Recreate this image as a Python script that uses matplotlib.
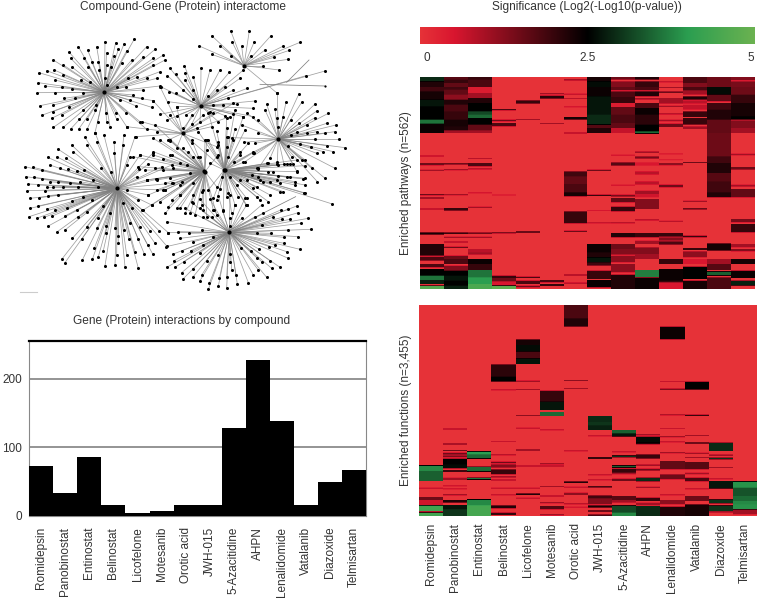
import numpy as np
import matplotlib
matplotlib.use("Agg")
from matplotlib import pyplot as plt
from matplotlib.colors import LinearSegmentedColormap

plt.rcParams['font.family'] = ['Liberation Sans', 'DejaVu Sans']
TEXT = '#333333'
W, H = 760, 599

compounds = ['Romidepsin', 'Panobinostat', 'Entinostat', 'Belinostat', 'Licofelone', 'Motesanib',
             'Orotic acid', 'JWH-015', '5-Azacitidine', 'AHPN', 'Lenalidomide', 'Vatalanib',
             'Diazoxide', 'Telmisartan']
interactions = [73, 33, 85, 15, 4.5, 7, 15, 15, 128, 227, 138, 15, 49, 67]

star_a_origin = (25, 30)
star_a_hub = (238, 187)
star_a = [(328,27),(272,38),(240,35),(215,50),(160,50),(132,66),(188,60),(85,90),(42,128),(65,122),(40,158),(37,188),
          (45,227),(50,256),(85,292),(115,292),(137,297),(162,296),(187,296),(210,308),(255,290),(305,290),(345,275),
          (365,298),(405,125),(420,90),(415,75),(390,58),(365,50),(297,42),(305,62),(280,58),(245,68),(385,105),
          (385,85),(355,82),(395,145),(405,168),(380,232),(385,212),(355,180),(333,228),(325,195),(303,170),(275,268),
          (245,275),(218,275),(163,268),(187,266),(110,255),(83,245),(80,265),(85,225),(132,232),(175,240),(210,240),
          (243,250),(272,248),(302,248),(115,135),(115,105),(137,85),(142,112),(167,150),(195,155),(88,120),(90,150),
          (112,170),(140,178),(60,168),(90,188),(118,205),(150,205),(175,190),(222,120),(240,143),(190,110),(177,85),
          (200,95),(220,95),(245,105),(258,110),(268,78),(290,100),(320,90),(335,142),(367,145),(275,170),(310,145),
          (352,205),(315,210),(285,210),(245,165),(213,225)]

star_b_origin = (15, 130)
star_b_hub = (307, 175)
star_b = [(210,22),(240,8),(267,15),(297,35),(327,15),(360,20),(245,35),(215,45),(170,45),(130,58),(98,82),(125,80),
          (152,85),(175,65),(105,105),(30,110),(55,112),(80,120),(135,115),(160,118),(185,122),(208,120),(258,115),
          (288,125),(335,105),(372,118),(400,102),(32,140),(58,142),(82,148),(105,155),(130,155),(165,160),(195,155),
          (235,150),(40,162),(68,165),(95,172),(115,170),(145,170),(37,182),(90,183),(190,172),(250,172),(45,205),
          (72,203),(100,197),(130,195),(172,212),(205,202),(232,210),(45,235),(70,228),(95,237),(120,240),(155,235),
          (185,240),(215,245),(265,228),(42,260),(65,265),(88,262),(112,258),(150,258),(190,262),(250,263),(100,288),
          (127,305),(150,300),(172,325),(200,328),(215,290),(245,295),(272,287),(300,295),(328,300),(272,308),(140,388),
          (150,398),(202,390),(232,388),(265,362),(238,355),(250,380),(270,407),(300,405),(330,410),(370,415),(305,375),
          (310,338),(335,375),(360,365),(388,372),(413,372),(342,328),(370,328),(398,345),(420,340),(310,318),(345,280),
          (375,290),(405,302),(432,302),(460,308),(455,348),(285,250),(325,218),(352,233),(382,240),(410,225),(368,210),
          (400,195),(445,180),(425,148),(470,160),(395,150),(365,140),(335,180),(470,105),(440,110),(415,68),(375,75),
          (345,80),(325,45),(298,70)]

star_c_origin = (160, 190)
star_c_hub = (208, 127)
star_c = [(452,118),(420,178),(415,140),(385,120),(372,142),(445,85),(422,100),(390,88),(365,88),(415,68),(410,48),
          (385,57),(362,60),(338,82),(310,70),(305,105),(290,128),(332,130),(372,160),(380,185),(345,165),(328,170),
          (298,178),(272,182),(385,205),(360,232),(335,235),(330,212),(305,215),(292,205),(320,262),(295,240),(280,255),
          (265,278),(242,175),(232,282),(228,255),(215,240),(210,215),(210,192),(200,295),(200,262),(178,265),(175,288),
          (148,280),(125,255),(120,272),(145,298),(98,262),(70,266),(65,248),(98,238),(140,212),(175,195),(120,188),
          (92,182),(72,215),(42,212),(20,232),(45,232),(66,182),(40,192),(18,170),(60,145),(25,128),(88,130),(125,120),
          (160,140),(130,165),(100,155),(155,82),(128,82),(188,62),(162,60),(120,55),(98,40),(75,55),(55,125),(20,95),
          (210,108),(210,85),(225,45),(260,45),(245,85),(285,80),(305,45),(255,25),(175,18),(210,15),(150,28),(120,28)]

crop_origin = (160, 25)
star_e_hub = (252, 122)
star_e = [(212,17),(268,17),(155,32),(217,52),(283,50),(332,33),(118,63),(180,62),(245,63),(272,92),(155,88),(212,93),
          (342,97),(385,103),(310,122),(358,135),(370,63),(388,76),(420,52),(315,75),(352,205)]
star_d_hub = (122, 243)
star_d = [(30,130),(73,122),(100,155),(123,130),(150,135),(180,135),(208,142),(47,148),(75,145),(22,152),(75,165),
          (100,195),(170,195),(195,185),(2,185),(28,200),(48,205),(25,230),(70,195),(98,222),(203,220),(145,212),
          (220,195),(240,160),(250,135),(0,268),(22,285),(50,245),(78,270),(50,272),(160,240),(190,240),(232,238),
          (262,190),(285,228),(280,250),(150,262),(195,272),(218,268),(250,275),(280,275),(120,290),(175,290),(70,310),
          (95,298),(495,138),(438,152)]
star_f_hub = (355, 342)
star_f = [(416,208),(425,232),(465,237),(505,265),(470,258),(465,278),(440,300),(418,295),(392,285),(370,275),(378,232),
          (352,205),(345,252),(352,280),(355,305),(320,238),(315,255),(295,285),(262,265),(295,325),(245,300),(285,355),
          (252,352),(215,338),(528,300),(500,295),(470,320),(440,325),(525,320),(495,325),(410,322),(538,342),(500,362),
          (465,342),(555,368),(520,380),(452,365),(420,358),(385,362),(490,380),(470,385),(525,430),(495,460),(472,470),
          (435,405),(455,430),(425,405),(395,395),(400,418),(410,438),(372,418),(352,410),(330,400),(295,430),(282,385),
          (255,410),(222,412),(392,330)]

full_origin = (0, 0)
star_h_hub = (675, 510)
star_h = [(890,515),(915,535),(912,578),(885,545),(862,492),(830,492),(800,490),(775,507),(760,458),(745,430),(720,465),
          (685,410),(680,440),(685,470),(735,390),(790,545),(805,605),(780,600),(738,615),(695,640),(760,565),(740,540),
          (712,555),(680,590),(650,600),(830,540),(860,530),(840,575),(775,530),(655,425),(625,420),(820,515),(997,612)]
star_g_hub = (615, 515)
star_g = [(530,625),(495,570),(490,510),(515,465),(510,420),(550,445),(580,470),(620,420),(650,470),(600,470),(560,495),
          (510,535),(465,505),(470,540),(440,540),(415,500),(400,470),(540,555),(575,605),(605,615),(620,650),(650,645),
          (585,645),(555,640),(515,600),(470,570),(610,570),(650,560),(580,550),(540,585)]
star_i_hub = (548, 400)
star_i = [(380,380),(408,410),(425,365),(460,303),(480,260),(510,345),(530,320),(575,345),(610,345),(640,340),(470,395),
          (505,420),(530,445),(575,430),(590,385),(635,380),(650,440),(690,350),(700,310),(615,515),(675,510)]

centre_origin = (140, 100)
centre_g_hub = (193, 213)
centre_g = [(20,240),(48,237),(75,250),(100,250),(125,245),(150,220),(35,315),(60,305),(85,320),(120,325),(75,270),
            (25,285),(160,285),(185,275),(190,330),(220,330),(150,340),(120,285),(100,205),(70,178),(40,165),(15,210),
            (40,155),(90,165),(120,190),(155,120),(145,155),(60,120),(40,115),(90,122),(175,170),(195,120),(200,150),
            (0,165),(10,330),(75,340),(45,75)]
centre_h_hub = (253, 210)
centre_h = [(450,192),(415,195),(385,190),(350,205),(385,215),(415,228),(450,232),(490,237),(495,255),(465,255),(420,250),
            (390,245),(360,240),(335,225),(300,240),(270,230),(245,232),(240,268),(205,270),(265,280),(295,290),(320,295),
            (350,290),(285,315),(320,315),(250,330),(220,295),(340,155),(310,187),(300,155),(280,120),(262,112),(235,135),
            (285,88),(262,85),(230,92),(200,120),(470,180),(495,197),(352,262),(390,285),(430,275),(495,280),(210,190),
            (235,165),(205,38),(175,95),(285,30),(310,50),(260,55)]

cross_x = [887, 690]  # link between lower star and right side
cross_y = [590, 690]
long_line_x = [780, 975]
long_line_y = [253, 258]
side_line_x = [860, 927]
side_line_y = [247, 180]

stars = [(star_a_origin, star_a_hub, star_a), (star_b_origin, star_b_hub, star_b), (star_c_origin, star_c_hub, star_c),
         (crop_origin, star_e_hub, star_e), (crop_origin, star_d_hub, star_d), (crop_origin, star_f_hub, star_f),
         (full_origin, star_h_hub, star_h), (full_origin, star_g_hub, star_g), (full_origin, star_i_hub, star_i),
         (centre_origin, centre_g_hub, centre_g), (centre_origin, centre_h_hub, centre_h)]

# heatmaps: per compound, (first row, last row, value); unlisted rows are 0
pathway_top = 232
pathway_bottom = 867
pathways = [
    [(232,245,2.9),(245,262,2.2),(262,275,1.9),(275,300,2.3),(300,320,2.7),(320,360,2.5),(360,372,3.6),(372,400,2.4),(468,470,1.8),(490,497,1.5),(510,514,1),(580,584,1.5),(590,594,1.5),(623,627,1),(695,702,2.3),(730,765,2.2),(768,780,1.8),(790,800,1.8),(805,825,2.5),(825,838,3.6),(838,850,2.8),(855,867,4.6)],
    [(232,240,1.7),(240,250,2),(250,262,1.6),(262,270,1.9),(270,285,1.6),(285,300,1.2),(300,315,2.2),(315,335,1.8),(335,360,2),(360,380,2.3),(380,392,2.2),(392,400,1),(490,495,1.5),(508,512,1),(580,584,1),(622,630,2),(695,700,2),(708,712,1),(722,726,1),(738,742,1.5),(765,775,1.5),(775,790,1.8),(795,810,1.3),(810,825,2.5),(825,840,2.7),(840,855,2.5),(855,867,2.8)],
    [(232,240,2),(240,262,1.8),(262,280,.4),(280,295,1),(295,310,2.2),(310,335,2.5),(335,345,3.2),(345,355,3.5),(355,375,2.5),(375,392,1.6),(392,400,1),(475,478,.8),(490,500,1.8),(505,510,.8),(575,578,.8),(618,622,1),(695,700,1.5),(708,712,1),(745,755,.8),(755,762,1),(775,790,2.4),(790,808,2),(808,830,3.6),(830,850,4),(850,867,4.5)],
    [(328,332,1.8),(360,365,1.5),(370,380,1.8),(582,584,1),(695,698,2),(825,832,2),(832,842,1.5),(842,855,.5),(855,867,4.8)],
    [(302,312,2),(358,361,1),(692,696,2.3),(828,832,1.8),(840,850,1.8),(855,860,1.5)],
    [(280,284,1),(288,297,2.1),(370,373,1),(838,845,1.8),(850,856,2)],
    [(238,243,1),(282,285,1),(295,298,.8),(320,323,.8),(352,360,2.3),(398,402,1),(515,530,1.9),(530,550,1.6),(550,575,1.8),(575,587,2.3),(632,668,2),(690,694,1.5),(820,826,.8),(845,850,.8)],
    [(232,245,2.3),(245,262,2.6),(262,290,2.4),(290,345,2.7),(345,375,2.9),(375,385,1.7),(385,400,2.2),(510,514,1.5),(582,586,2),(628,630,.8),(665,668,1),(730,755,2.4),(755,770,2.2),(770,785,2.7),(785,795,1.9),(810,835,2),(838,860,2.4)],
    [(232,240,1.5),(245,262,1.3),(262,272,1.6),(275,292,1.8),(292,310,2),(310,322,.4),(322,345,1.6),(345,370,1.8),(370,385,1.6),(385,400,.7),(465,468,.8),(488,498,1.7),(552,555,.8),(582,588,1.4),(592,605,1.6),(618,632,2),(665,668,1.2),(697,710,2.2),(730,745,1.5),(745,762,1.3),(765,785,1.2),(790,815,1.2),(822,865,2.2)],
    [(232,240,2.2),(245,262,2),(262,272,1.8),(275,290,2.2),(295,300,1),(310,325,1.8),(325,345,2.4),(345,375,2.1),(375,395,2.5),(395,402,3.5),(455,460,1),(470,477,1.4),(488,498,.5),(515,525,.8),(545,552,.8),(570,580,1),(580,590,.6),(595,625,1.3),(655,660,.8),(697,710,2),(720,730,1),(740,760,1.3),(760,775,1),(808,830,3.7),(832,865,2.4)],
    [(245,248,1),(262,265,1),(275,280,1.5),(295,312,1),(318,322,1),(340,345,.8),(360,365,1),(372,382,1.5),(460,465,.4),(478,482,.4),(490,497,1.2),(552,560,1.5),(660,664,.8),(697,708,2),(710,720,1.3),(722,732,1.8),(775,790,2),(805,840,2.4),(840,845,2),(845,867,.5)],
    [(232,250,1.8),(250,262,1.3),(262,272,1.8),(272,285,1),(290,300,2.2),(302,312,.8),(315,330,.7),(335,352,2),(355,375,2),(380,388,1),(487,490,1.5),(600,604,1),(622,627,1.5),(705,710,2),(742,748,2),(752,770,1.2),(775,790,.5),(798,835,2.5),(840,867,2.3)],
    [(232,262,1.5),(262,285,2.6),(285,305,1.6),(310,330,1.9),(330,360,2.2),(360,400,1.6),(400,470,1.5),(470,490,1.9),(490,520,2.2),(520,545,1.7),(545,575,1.9),(575,590,2.2),(728,750,2.3),(775,790,1),(790,808,1.7),(812,825,3.4),(830,867,1.8)],
    [(232,242,1.3),(245,262,1.4),(262,285,1.5),(285,310,2),(310,350,2.3),(350,360,2.5),(362,385,1.3),(385,400,1),(462,467,1),(502,510,1.5),(552,558,1),(565,590,1.6),(655,665,1.4),(670,695,2),(730,740,1),(745,752,1.3),(775,790,2.3),(810,832,2.4),(840,855,2.8)],
]
function_top = 30
function_bottom = 662
functions = [
    [(508,525,3.8),(525,555,3.4),(575,578,1),(603,612,1.5),(612,627,.6),(628,645,4.3),(645,650,.8),(650,662,4.3)],
    [(397,401,1),(442,446,1.4),(462,465,1.5),(470,476,1.5),(478,484,1.4),(488,505,2.5),(505,517,2.6),(522,528,1.9),(545,552,1),(568,571,.9),(577,580,.9),(595,598,1.5),(612,620,2.2),(627,640,2.7),(640,662,3)],
    [(466,475,4),(475,488,3.5),(512,527,3.5),(545,551,3.6),(610,628,3.8),(628,662,4.4)],
    [(208,245,2.1),(245,260,2.5),(283,286,1),(436,438,1),(475,478,1.2),(497,502,1.5),(505,515,1.3),(520,535,2),(540,545,1),(550,554,1),(575,578,1),(595,598,1),(628,637,2.2),(650,657,2)],
    [(133,150,2.3),(150,170,2.6),(170,190,1.8),(190,207,2.7),(257,260,1.5),(282,285,1),(357,360,1.2),(395,398,1),(460,464,1.5),(508,512,1),(575,578,1),(592,597,2.2),(605,608,1)],
    [(287,320,2),(320,345,2.7),(348,360,3.5),(400,403,1),(502,505,1.5),(508,512,1),(570,573,1),(598,602,1),(618,622,1),(630,640,1.7),(655,658,1.5)],
    [(30,70,1.8),(70,95,2.2),(255,258,1.2),(279,282,1),(463,466,1),(556,561,2.2),(572,575,1),(590,597,1.2),(622,625,1.2),(632,635,.8)],
    [(360,378,2.9),(378,388,3),(388,402,2.8),(418,421,1),(484,488,3),(535,538,1),(550,553,1),(570,575,1.8),(598,607,1.9),(607,625,1.3),(628,635,2.3),(642,648,1.5),(655,660,1.8)],
    [(402,412,3.4),(412,422,2.7),(466,469,1),(478,484,3),(508,515,3.4),(518,530,2),(530,535,1),(548,555,1.5),(600,612,1.7),(612,620,1),(628,650,3.2),(650,662,3.8)],
    [(415,418,1.5),(422,440,2.6),(440,445,2.2),(475,488,2),(505,510,1),(518,524,1.5),(545,556,2.9),(572,576,1),(605,615,2),(620,628,1),(630,662,2.9)],
    [(95,133,2.4),(259,261,1),(281,284,2),(355,358,1.3),(397,399,1),(420,424,1),(436,439,1),(468,472,1),(495,520,1.6),(535,550,1.5),(595,598,1),(612,625,1.2),(632,662,2.2)],
    [(260,284,2.5),(356,360,2),(417,420,1),(438,444,1.5),(470,474,1),(483,486,1),(498,520,1.7),(530,535,1),(545,556,1.8),(577,580,1),(600,615,1.5),(625,662,2.3)],
    [(440,465,2.9),(475,480,1),(485,490,3),(513,516,1),(547,550,1),(555,578,2.7),(610,622,3),(628,645,3),(645,650,1)],
    [(556,575,3.9),(575,600,3.3),(600,615,3.5),(615,625,3.8),(625,640,3.9),(640,655,1)],
]
color_ticks = [0, 2.5, 5]
color_tick_pos = [0.1, 2.5, 4.93]

sig_cmap = LinearSegmentedColormap.from_list('sig', [(0, '#E63238'), (0.1, '#D9162F'), (0.5, '#000000'),
                                                     (0.8, '#2B9E50'), (1, '#6BB250')])


def px_axes(x0, y0, x1, y1):
    return fig.add_axes([x0 / W, 1 - y1 / H, (x1 - x0) / W, (y1 - y0) / H])


def band_grid(bands, top, bottom):
    # bands are read at 3x, so average back to one row per picture pixel
    grid = np.zeros((bottom - top, len(bands)))
    for col, rows in enumerate(bands):
        for y0, y1, v in rows:
            grid[y0 - top:y1 - top, col] = v
    n = grid.shape[0] // 3
    return grid[:n * 3].reshape(n, 3, -1).mean(axis=1)


fig = plt.figure(figsize=(W / 100, H / 100), dpi=100)

# network, axes in reference pixels
ax = px_axes(0, 0, 400, 295)
ax.set_xlim(0, 400)
ax.set_ylim(295, 0)
ax.axis('off')
for origin, hub, leaves in stars:
    hx = origin[0] + hub[0] / 3
    hy = origin[1] + hub[1] / 3
    lx = [origin[0] + p[0] / 3 for p in leaves]
    ly = [origin[1] + p[1] / 3 for p in leaves]
    for x, y in zip(lx, ly):
        ax.plot([hx, x], [hy, y], color='#808080', lw=0.55, alpha=0.75, zorder=1)
    ax.plot(lx, ly, 'o', color='black', ms=2.2, mew=0, zorder=2)
    ax.plot(hx, hy, 'o', color='black', ms=3, mew=0, zorder=3)
for xs, ys in [(cross_x, cross_y), (long_line_x, long_line_y), (side_line_x, side_line_y)]:
    ax.plot(np.array(xs) / 3, np.array(ys) / 3, color='#808080', lw=0.55, zorder=1)
ax.plot([975 / 3], [258 / 3], 'o', color='black', ms=1.6, mew=0)
ax.plot([20, 37], [292, 292], color='#cccccc', lw=0.8)

# bars
ax = px_axes(29.3, 341, 366, 515.7)
x = np.arange(len(compounds))
ax.bar(x, interactions, width=1, color='black', zorder=3)
ax.set_xlim(-0.5, len(compounds) - 0.5)
ax.set_ylim(0, 255)
ax.set_yticks([0, 100, 200])
ax.set_xticks(x)
ax.set_xticklabels(compounds, rotation=90, fontsize=8.5, color=TEXT)
ax.tick_params(axis='x', length=0, pad=8)
ax.tick_params(axis='y', length=0, pad=5, labelsize=8.5, labelcolor=TEXT)
ax.grid(axis='y', color='#777777', lw=1.1, zorder=1)
for side in ['left', 'right', 'bottom']:
    ax.spines[side].set_color('#888888')
ax.spines['top'].set_linewidth(1.6)

# colour bar
ax = px_axes(420, 27, 755, 44)
ax.imshow(np.linspace(0, 5, 256)[None, :], aspect='auto', cmap=sig_cmap, vmin=0, vmax=5, extent=[0, 5, 0, 1])
ax.axis('off')
for pos, tick in zip(color_tick_pos, color_ticks):
    ax.text(pos, -0.8, str(tick), ha='center', va='center', fontsize=8.5, color=TEXT)

# heatmaps
ax = px_axes(420, 77.3, 755, 289)
ax.imshow(band_grid(pathways, pathway_top, pathway_bottom), aspect='auto', cmap=sig_cmap, vmin=0, vmax=5,
          interpolation='nearest')
ax.set_xticks([])
ax.set_yticks([])
ax.set_ylabel('Enriched pathways (n=562)', fontsize=8.5, color=TEXT, labelpad=6)
for s in ax.spines.values():
    s.set_visible(False)

ax = px_axes(419, 305, 757, 516)
ax.imshow(band_grid(functions, function_top, function_bottom), aspect='auto', cmap=sig_cmap, vmin=0, vmax=5,
          interpolation='nearest')
ax.set_xticks(np.arange(len(compounds)))
ax.set_xticklabels(compounds, rotation=90, fontsize=8.5, color=TEXT)
ax.tick_params(axis='x', length=0, pad=5)
ax.set_yticks([])
ax.set_ylabel('Enriched functions (n=3,455)', fontsize=8.5, color=TEXT, labelpad=5)
for s in ax.spines.values():
    s.set_visible(False)

fig.text(183 / W, 1 - 7 / H, 'Compound-Gene (Protein) interactome', ha='center', va='center', fontsize=8.6, color=TEXT)
fig.text(587 / W, 1 - 7 / H, 'Significance (Log2(-Log10(p-value))', ha='center', va='center', fontsize=8.6, color=TEXT)
fig.text(182 / W, 1 - 321 / H, 'Gene (Protein) interactions by compound', ha='center', va='center', fontsize=8.6, color=TEXT)

fig.savefig('out.png', dpi=100)
